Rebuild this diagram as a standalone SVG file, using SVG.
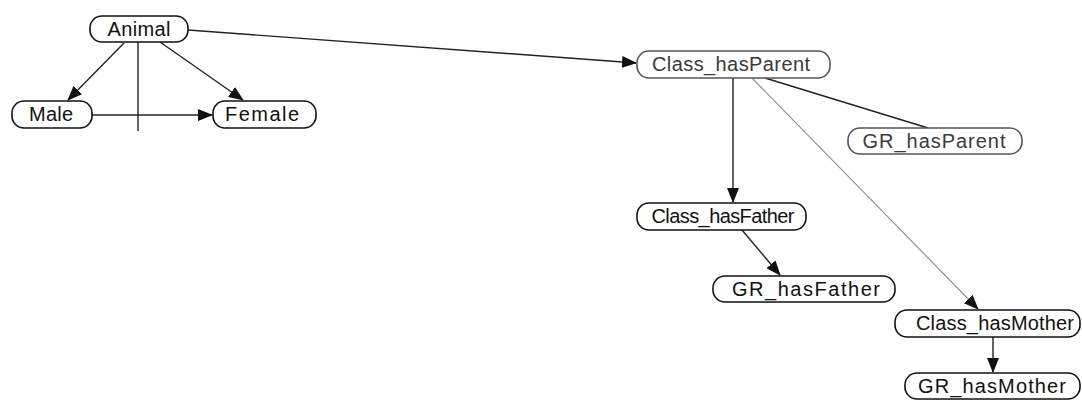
<svg xmlns="http://www.w3.org/2000/svg" width="1082" height="401" viewBox="0 0 1082 401">
  <style>
    .node rect { fill: #ffffff; stroke: #111111; stroke-width: 1.6; }
    .node.light rect { stroke: #555555; }
    .node text { font-family: "Liberation Sans", Arial, sans-serif; font-size: 20px; fill: #111111; text-anchor: middle; }
    .node.light text { fill: #3a3a3a; }
    .edge { fill: none; stroke: #222222; stroke-width: 1.4; }
    .edge.thin { stroke: #8a8a8a; stroke-width: 1.1; }
  </style>
  <defs>
    <marker id="arrow" viewBox="0 0 15 12" refX="14" refY="6" markerWidth="15" markerHeight="12" markerUnits="userSpaceOnUse" orient="auto">
      <path d="M0,0 L15,6 L0,12 Z" fill="#111111"/>
    </marker>
  </defs>
  <rect width="1082" height="401" fill="#ffffff"/>

  <!-- connectors -->
  <g id="connectors">
    <line class="edge" x1="124" y1="43" x2="68" y2="100" marker-end="url(#arrow)"/>
    <line class="edge" x1="160" y1="42" x2="243" y2="100" marker-end="url(#arrow)"/>
    <line class="edge" x1="138" y1="42" x2="138" y2="131"/>
    <line class="edge" x1="92" y1="115" x2="212" y2="115" marker-end="url(#arrow)"/>
    <line class="edge" x1="188" y1="30" x2="636" y2="63" marker-end="url(#arrow)"/>
    <line class="edge" x1="733" y1="78" x2="733" y2="202" marker-end="url(#arrow)"/>
    <line class="edge" x1="765" y1="78" x2="928" y2="128"/>
    <line class="edge thin" x1="752" y1="78" x2="978" y2="309" marker-end="url(#arrow)"/>
    <line class="edge" x1="742" y1="230" x2="780" y2="275" marker-end="url(#arrow)"/>
    <line class="edge" x1="993" y1="337" x2="993" y2="372" marker-end="url(#arrow)"/>
  </g>

  <!-- nodes -->
  <g id="node-animal" class="node">
    <rect x="90" y="16" width="98" height="26" rx="12"/>
    <text x="139" y="36" textLength="63">Animal</text>
  </g>
  <g id="node-male" class="node">
    <rect x="12" y="101" width="80" height="27" rx="12"/>
    <text x="51" y="121" textLength="44">Male</text>
  </g>
  <g id="node-female" class="node">
    <rect x="213" y="101" width="103" height="27" rx="12"/>
    <text x="262" y="121" textLength="74">Female</text>
  </g>
  <g id="node-class-hasparent" class="node light">
    <rect x="637" y="51" width="193" height="27" rx="12"/>
    <text x="731" y="71" textLength="158">Class_hasParent</text>
  </g>
  <g id="node-gr-hasparent" class="node light">
    <rect x="848" y="128" width="174" height="26" rx="12"/>
    <text x="934" y="148" textLength="143">GR_hasParent</text>
  </g>
  <g id="node-class-hasfather" class="node">
    <rect x="637" y="203" width="169" height="27" rx="12"/>
    <text x="723" y="223" textLength="143">Class_hasFather</text>
  </g>
  <g id="node-gr-hasfather" class="node">
    <rect x="713" y="276" width="182" height="26" rx="12"/>
    <text x="806" y="296" textLength="148">GR_hasFather</text>
  </g>
  <g id="node-class-hasmother" class="node">
    <rect x="895" y="310" width="185" height="27" rx="12"/>
    <text x="995" y="330" textLength="158">Class_hasMother</text>
  </g>
  <g id="node-gr-hasmother" class="node">
    <rect x="905" y="373" width="175" height="26" rx="12"/>
    <text x="992" y="393" textLength="148">GR_hasMother</text>
  </g>
</svg>
